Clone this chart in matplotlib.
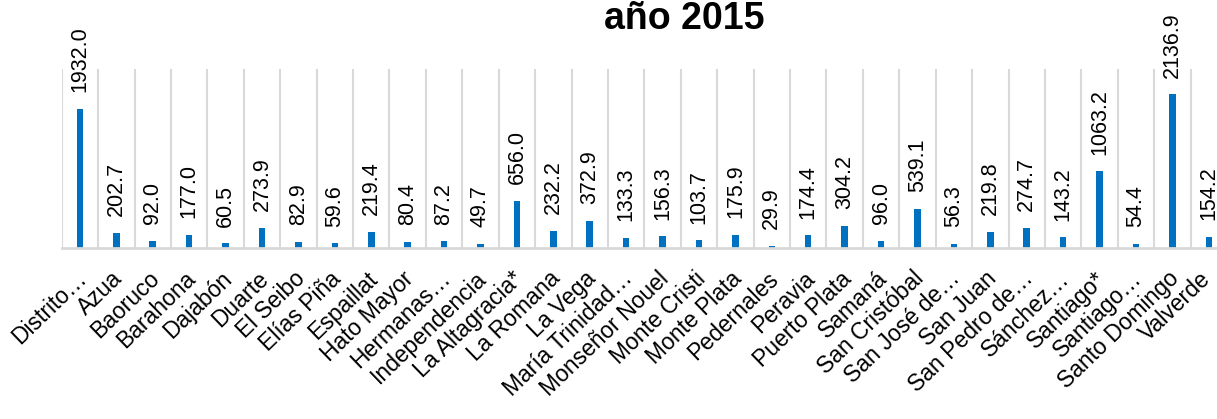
import numpy as np
import matplotlib
matplotlib.use("Agg")
import matplotlib.pyplot as plt
from matplotlib.transforms import ScaledTranslation

plt.rcParams['font.family'] = ['Liberation Sans', 'DejaVu Sans']

categories = ["Distrito…", "Azua", "Baoruco", "Barahona", "Dajabón", "Duarte",
              "El Seibo", "Elías Piña", "Espaillat", "Hato Mayor", "Hermanas…",
              "Independencia", "La Altagracia*", "La Romana", "La Vega",
              "María Trinidad…", "Monseñor Nouel", "Monte Cristi", "Monte Plata",
              "Pedernales", "Peravia", "Puerto Plata", "Samaná", "San Cristóbal",
              "San José de…", "San Juan", "San Pedro de…", "Sánchez…", "Santiago*",
              "Santiago…", "Santo Domingo", "Valverde"]
values = [1932.0, 202.7, 92.0, 177.0, 60.5, 273.9, 82.9, 59.6, 219.4, 80.4, 87.2,
          49.7, 656.0, 232.2, 372.9, 133.3, 156.3, 103.7, 175.9, 29.9, 174.4, 304.2,
          96.0, 539.1, 56.3, 219.8, 274.7, 143.2, 1063.2, 54.4, 2136.9, 154.2]
title = "año 2015"

W, H = 1217, 419
fig = plt.figure(figsize=(W / 100, H / 100), dpi=100)
left, right, bottom, top = 61.7, 1227.0, 247.7, 69.0
ax = fig.add_axes([left / W, 1 - bottom / H, (right - left) / W, (bottom - top) / H])

x = np.arange(len(categories))
ax.bar(x, values, width=0.18, color='#0070C0', zorder=3)
ax.set_xlim(-0.5, len(categories) - 0.5)
ax.set_ylim(0, 2490)

for s in ['top', 'left', 'right']:
    ax.spines[s].set_visible(False)
ax.spines['bottom'].set_color('#D9D9D9')
ax.spines['bottom'].set_linewidth(2)
ax.spines['bottom'].set_zorder(4)

ax.set_yticks([])
ax.set_xticks(np.arange(-0.5, len(categories), 1), minor=True)
ax.grid(which='minor', axis='x', color='#D9D9D9', linewidth=1.5, zorder=0)
ax.tick_params(axis='x', which='both', length=0)
ax.set_xticks(x)
ax.set_xticklabels(categories, rotation=44, ha='right', rotation_mode='anchor',
                   fontsize=16.5)
ax.tick_params(axis='x', which='major', pad=14)
labels = ax.get_xticklabels()
for i, lab in enumerate(labels):
    dx = -5 if i < len(labels) - 1 else -10
    lab.set_transform(lab.get_transform() +
                      ScaledTranslation(dx / 100, 0, fig.dpi_scale_trans))

for xi, v in zip(x, values):
    ax.annotate(f"{v:.1f}", (xi, v), xytext=(0, 12), textcoords='offset points',
                rotation=90, ha='center', va='bottom', fontsize=15.5,
                annotation_clip=False)

fig.text(684 / W, 1 - 29 / H, title, ha='center', va='baseline', fontsize=27,
         fontweight='bold')

fig.savefig("out.png", dpi=100)
